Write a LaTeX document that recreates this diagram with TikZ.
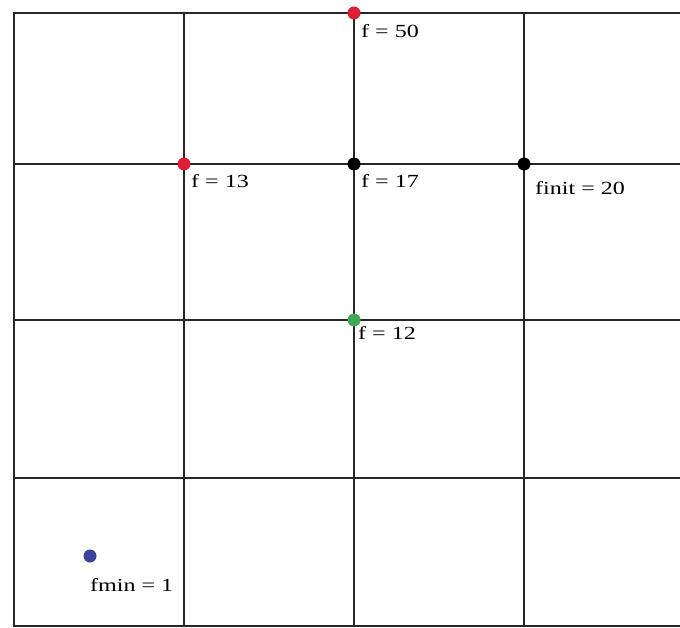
\documentclass[tikz,border=0pt]{standalone}
\usepackage{fontspec}
\usepackage{graphicx}
\setmainfont{Liberation Serif}
\definecolor{dotred}{RGB}{222,30,52}
\definecolor{dotgreen}{RGB}{60,168,84}
\definecolor{dotblue}{RGB}{62,64,158}
\begin{document}
\begin{tikzpicture}[x=1pt,y=-1pt,
  gridline/.style={line width=1.7pt, draw=black!85},
  dot/.style={circle, inner sep=0pt, minimum size=13pt},
  lbl/.style={anchor=base west, inner sep=0pt, font=\fontsize{18.5}{20}\selectfont}]
\useasboundingbox (0,0) rectangle (680,628);
\fill[white] (0,0) rectangle (680,628);
% grid
\draw[gridline] (680,13) -| (14,626) -- (680,626);
\foreach \x in {184,354,524} \draw[gridline] (\x,13) -- (\x,626);
\foreach \y in {164,320,478} \draw[gridline] (14,\y) -- (680,\y);
% points
\node[dot, fill=dotred]   (p50)   at (354,13)  {};
\node[dot, fill=dotred]   (p13)   at (184,164) {};
\node[dot, fill=black]    (p17)   at (354,164) {};
\node[dot, fill=black]    (pinit) at (524,164) {};
\node[dot, fill=dotgreen] (p12)   at (354,320) {};
\node[dot, fill=dotblue]  (pmin)  at (90,556)  {};
% labels
\node[lbl] (l50)   at (361,37.5)  {\scalebox{1.3}[1]{f = 50}};
\node[lbl] (l13)   at (191,188)   {\scalebox{1.3}[1]{f = 13}};
\node[lbl] (l17)   at (361,188)   {\scalebox{1.3}[1]{f = 17}};
\node[lbl] (linit) at (535,195)   {\scalebox{1.3}[1]{finit = 20}};
\node[lbl] (l12)   at (358,339)   {\scalebox{1.3}[1]{f = 12}};
\node[lbl] (lmin)  at (90,591)    {\scalebox{1.3}[1]{fmin = 1}};
\end{tikzpicture}
\end{document}
